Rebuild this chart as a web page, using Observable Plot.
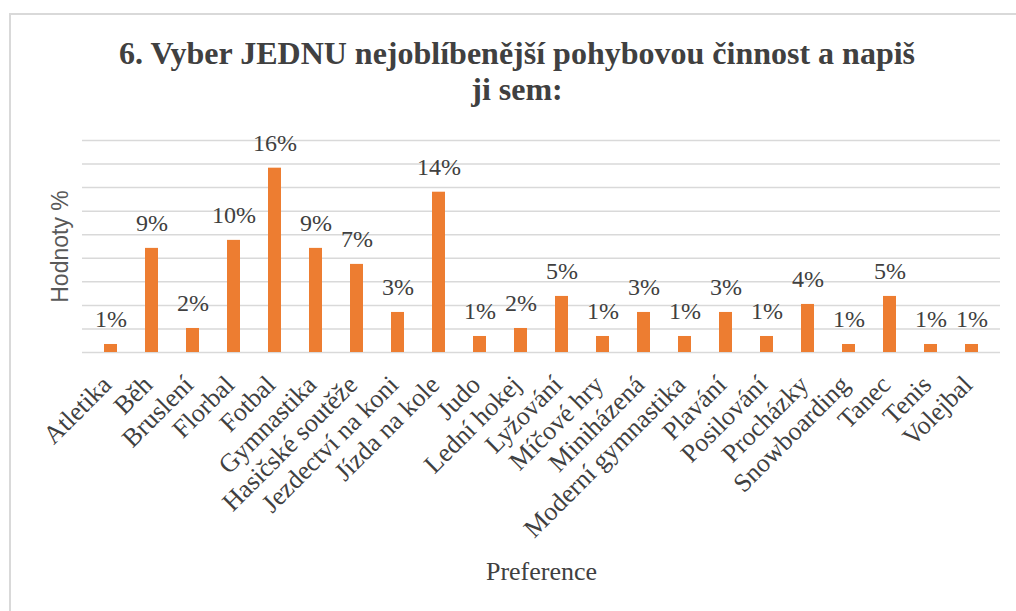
<!DOCTYPE html>
<html>
<head>
<meta charset="utf-8">
<script src="https://cdn.jsdelivr.net/npm/d3@7"></script>
<script src="https://cdn.jsdelivr.net/npm/@observablehq/plot@0.6"></script>
<style>
  html, body { margin: 0; padding: 0; background: #fff; overflow: hidden; width: 1016px; height: 611px; }
  #frame { position: absolute; left: 9px; top: 13px; width: 1100px; height: 700px; border: 2px solid #d9d9d9; box-sizing: border-box; }
  #title { position: absolute; left: 0; top: 34.5px; width: 1034px; text-align: center; font-family: "Liberation Serif", serif; font-weight: bold; font-size: 32px; line-height: 36px; color: #404040; }
  #chart { position: absolute; left: 0; top: 110px; }
</style>
</head>
<body>
<div id="frame"></div>
<div id="title">6. Vyber JEDNU nejoblíbenější pohybovou činnost a napiš<br>ji sem:</div>
<div id="chart"></div>
<script>
const categories = ["Atletika", "Běh", "Bruslení", "Florbal", "Fotbal", "Gymnastika", "Hasičské soutěže", "Jezdectví na koni", "Jízda na kole", "Judo", "Lední hokej", "Lyžování", "Míčové hry", "Miniházená", "Moderní gymnastika", "Plavání", "Posilování", "Procházky", "Snowboarding", "Tanec", "Tenis", "Volejbal"];
const values = [0.68, 8.84, 2.04, 9.52, 15.65, 8.84, 7.48, 3.40, 13.61, 1.36, 2.04, 4.76, 1.36, 3.40, 1.36, 3.40, 1.36, 4.08, 0.68, 4.76, 0.68, 0.68];
const yTicks = [0, 2, 4, 6, 8, 10, 12, 14, 16, 18];
const yLabel = "Hodnoty %";
const xLabel = "Preference";

const data = categories.map((c, i) => ({category: c, value: values[i], label: Math.round(values[i]) + "%"}));
const serif = "Liberation Serif, serif";

const chart = Plot.plot({
  width: 1016,
  height: 500,
  marginLeft: 82,
  marginRight: 16,
  marginTop: 30,
  marginBottom: 258,
  style: {fontFamily: serif, background: "transparent", color: "#404040"},
  x: {domain: categories, paddingInner: 0.69, paddingOuter: 0.345, label: null, axis: null},
  y: {domain: [0, 18], label: null, axis: null},
  marks: [
    Plot.gridY(yTicks, {stroke: "#d9d9d9", strokeOpacity: 1, strokeWidth: 1.5}),
    Plot.barY(data, {x: "category", y: "value", fill: "#ED7D31"}),
    Plot.text(data, {x: "category", y: "value", text: "label", dy: -25, fontSize: 24, fill: "#404040", fontFamily: serif}),
    Plot.text(categories, {x: (d) => d, frameAnchor: "bottom", text: (d) => d, textAnchor: "end", lineAnchor: "middle", rotate: -45, dx: -4, dy: 28, fontSize: 26, fill: "#404040", fontFamily: serif}),
    Plot.text([yLabel], {frameAnchor: "left", textAnchor: "middle", lineAnchor: "middle", dx: -22, rotate: -90, fontSize: 23, fill: "#595959", fontFamily: "Liberation Sans, sans-serif"}),
    Plot.text([xLabel], {frameAnchor: "bottom", textAnchor: "middle", lineAnchor: "middle", dy: 219, fontSize: 26, fill: "#404040", fontFamily: serif})
  ]
});
document.getElementById("chart").appendChild(chart);
</script>
</body>
</html>
